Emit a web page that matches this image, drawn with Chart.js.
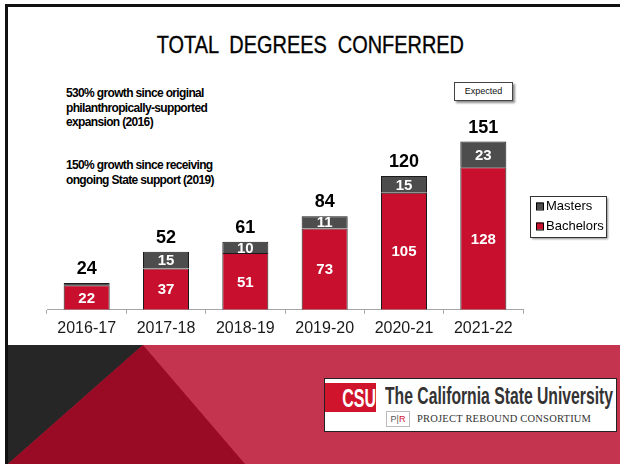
<!DOCTYPE html>
<html><head><meta charset="utf-8">
<script src="https://cdn.jsdelivr.net/npm/chart.js@4.4.0/dist/chart.umd.min.js"></script>
<style>
html,body{margin:0;padding:0;background:#fff;}
#slide{position:relative;width:620px;height:464px;overflow:hidden;background:#fff;font-family:"Liberation Sans",Arial,sans-serif;}
.abs{position:absolute;}
#topline{left:5px;top:4px;width:615px;height:3px;background:#111;}
#leftline{left:5px;top:4px;width:3px;height:460px;background:#111;}
#band{left:0;top:0;}
#title{left:0;top:31px;width:620px;text-align:center;font-size:24px;line-height:28px;color:#000;white-space:pre;transform:scaleX(0.83);transform-origin:312px 0;-webkit-text-stroke:0.35px #000;}
.note{left:66px;font-weight:bold;font-size:12px;line-height:14.5px;letter-spacing:-0.65px;color:#000;white-space:pre;}
#expected{left:454px;top:82px;width:57px;height:17px;border:1px solid #444;background:#fff;box-shadow:2px 2px 2px rgba(0,0,0,0.45);font-size:9px;line-height:17px;text-align:center;color:#111;}
#logo{left:324px;top:378px;width:291px;height:52px;background:#fff;border:1px solid #222;}
#csublock{left:325px;top:383px;width:51px;height:29px;background:#d0142c;}
#csu{left:325px;top:383px;width:48px;height:29px;color:#fff;font-weight:bold;font-size:25px;line-height:30px;text-align:right;transform:scaleX(0.64);transform-origin:100% 50%;}
#csuname{left:385px;top:383px;font-weight:bold;font-size:24px;line-height:26px;color:#333;white-space:nowrap;transform:scaleX(0.655);transform-origin:0 0;}
#prbox{left:386px;top:411px;width:22px;height:14px;border:1px solid #bbb;font-size:9px;line-height:14px;text-align:center;color:#555;}
#prtext{left:417px;top:412px;font-family:"Liberation Serif","Times New Roman",serif;font-size:10.5px;line-height:14px;color:#333;white-space:nowrap;letter-spacing:0.2px;}
canvas{position:absolute;left:0;top:0;}
</style>
</head><body>
<div id="slide">
  <svg class="abs" id="band" width="620" height="464">
    <rect x="8" y="345" width="612" height="119" fill="#c4344f"/>
    <polygon points="8,345 143,345 8,464" fill="#262626"/>
    <polygon points="143,345 245,464 8,464" fill="#990a24"/>
  </svg>
  <div class="abs" id="topline"></div>
  <div class="abs" id="leftline"></div>
  <div class="abs" id="title">TOTAL  DEGREES  CONFERRED</div>
  <div class="abs note" style="top:86px;">530% growth since original
philanthropically-supported
expansion (2016)</div>
  <div class="abs note" style="top:158px;">150% growth since receiving
ongoing State support (2019)</div>
  <div class="abs" id="expected">Expected</div>
  <canvas id="c" width="620" height="345"></canvas>
  <div class="abs" id="logo"></div>
  <div class="abs" id="csublock"></div>
  <div class="abs" id="csu">CSU</div>
  <div class="abs" id="csuname">The California State University</div>
  <div class="abs" id="prbox">P|<span style="color:#d0142c">R</span></div>
  <div class="abs" id="prtext">PROJECT REBOUND CONSORTIUM</div>
</div>
<script>
const categories = ['2016-17','2017-18','2018-19','2019-20','2020-21','2021-22'];
const bachelors = [22, 37, 51, 73, 105, 128];
const masters = [2, 15, 10, 11, 15, 23];
const seriesNames = ['Bachelors', 'Masters'];
const seriesColors = ['#c8102e', '#4d4d4d'];
const yMax = 200;

const FONT = '"Liberation Sans", Arial, sans-serif';

const barLabels = {
  id: 'barLabels',
  afterDatasetsDraw(chart) {
    const ctx = chart.ctx;
    ctx.save();
    ctx.textAlign = 'center';
    ctx.textBaseline = 'middle';
    ctx.font = 'bold 15px ' + FONT;
    ctx.fillStyle = '#fff';
    chart.data.datasets.forEach((ds, di) => {
      const meta = chart.getDatasetMeta(di);
      meta.data.forEach((el, i) => {
        const v = ds.data[i];
        if (v < 5) return;
        ctx.fillText(String(v), el.x, (el.y + el.base) / 2 + 1);
      });
    });
    const last = chart.getDatasetMeta(chart.data.datasets.length - 1);
    ctx.fillStyle = '#000';
    ctx.font = 'bold 18px ' + FONT;
    last.data.forEach((el, i) => {
      const tot = chart.data.datasets.reduce((s, d) => s + d.data[i], 0);
      ctx.fillText(String(tot), el.x, el.y - 14);
    });
    ctx.restore();
  }
};

const boxLegend = {
  id: 'boxLegend',
  afterDraw(chart) {
    const ctx = chart.ctx;
    const x = chart.chartArea.right + 7, y = 196, w = 76, h = 41;
    ctx.save();
    ctx.shadowColor = 'rgba(0,0,0,0.45)';
    ctx.shadowBlur = 2; ctx.shadowOffsetX = 2; ctx.shadowOffsetY = 2;
    ctx.fillStyle = '#fff';
    ctx.fillRect(x, y, w, h);
    ctx.shadowColor = 'transparent';
    ctx.strokeStyle = '#333'; ctx.lineWidth = 1;
    ctx.strokeRect(x + 0.5, y + 0.5, w, h);
    const ds = chart.data.datasets.slice().reverse();
    ctx.font = '13px ' + FONT;
    ctx.textBaseline = 'middle';
    ds.forEach((d, k) => {
      const cy = y + 10.5 + k * 20;
      ctx.fillStyle = d.backgroundColor;
      ctx.fillRect(x + 6, cy - 4, 7, 7);
      ctx.strokeStyle = '#000';
      ctx.strokeRect(x + 6.5, cy - 3.5, 7, 7);
      ctx.fillStyle = '#000';
      ctx.fillText(d.label, x + 16, cy);
    });
    ctx.restore();
  }
};

new Chart(document.getElementById('c'), {
  type: 'bar',
  data: {
    labels: categories,
    datasets: [
      { label: seriesNames[0], data: bachelors, backgroundColor: seriesColors[0], borderColor: '#1a1a1a', borderWidth: 1 },
      { label: seriesNames[1], data: masters, backgroundColor: seriesColors[1], borderColor: '#1a1a1a', borderWidth: 1 }
    ]
  },
  options: {
    responsive: false,
    animation: false,
    layout: { padding: { left: 47, right: 97, top: 87, bottom: 2 } },
    datasets: { bar: { categoryPercentage: 1, barPercentage: 0.58 } },
    plugins: { legend: { display: false }, tooltip: { enabled: false } },
    scales: {
      x: {
        stacked: true,
        grid: { display: true, offset: true, drawOnChartArea: false, drawTicks: true, tickLength: 4, color: '#a6a6a6' },
        border: { display: true, color: '#a6a6a6', width: 1 },
        ticks: { color: '#1a1a1a', font: { size: 16, family: FONT }, padding: 5, maxRotation: 0 }
      },
      y: { stacked: true, display: false, min: 0, max: yMax }
    }
  },
  plugins: [barLabels, boxLegend]
});
</script>
</body></html>
